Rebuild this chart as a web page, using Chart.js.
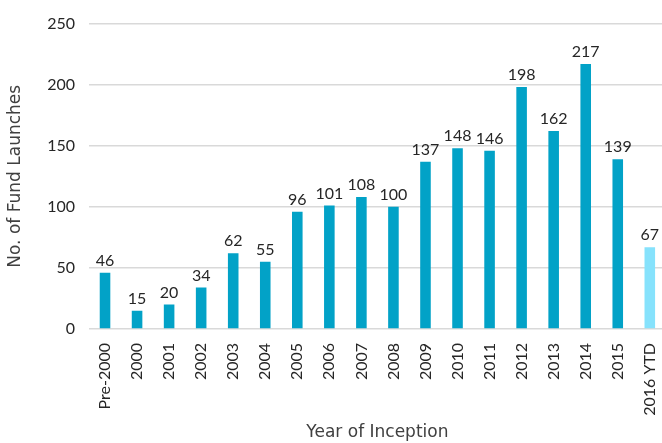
<!DOCTYPE html>
<html>
<head>
<meta charset="utf-8">
<script src="https://cdn.jsdelivr.net/npm/chart.js@4"></script>
<style>
  html, body { margin: 0; padding: 0; background: #fff; overflow: hidden; }
  #wrap { width: 675px; height: 443px; }
</style>
</head>
<body>
<div id="wrap"><canvas id="chart"></canvas></div>
<script>
var categories = ["Pre-2000", "2000", "2001", "2002", "2003", "2004", "2005", "2006", "2007", "2008",
                  "2009", "2010", "2011", "2012", "2013", "2014", "2015", "2016 YTD"];
var launches = [46, 15, 20, 34, 62, 55, 96, 101, 108, 100, 137, 148, 146, 198, 162, 217, 139, 67];
var yTicks = [0, 50, 100, 150, 200, 250];

var barColors = launches.map(function(v, i) {
    return i === launches.length - 1 ? "#86E2FC" : "#02A2C7";
});

var fontFamily = "Lato, 'DejaVu Sans', sans-serif";
var titleFamily = "'DejaVu Sans', sans-serif";

// draws the value above each bar
var valueLabels = {
    id: "valueLabels",
    afterDatasetsDraw: function(chart) {
        var ctx = chart.ctx;
        var meta = chart.getDatasetMeta(0);
        ctx.save();
        ctx.font = "16px " + fontFamily;
        ctx.fillStyle = "#262626";
        ctx.textAlign = "center";
        ctx.textBaseline = "bottom";
        meta.data.forEach(function(bar, i) {
            ctx.fillText(launches[i], bar.x, bar.y - 4);
        });
        ctx.restore();
    }
};

var config = {
    type: "bar",
    data: {
        labels: categories,
        datasets: [{
            data: launches,
            backgroundColor: barColors,
            barPercentage: 0.33,
            categoryPercentage: 1.0
        }]
    },
    options: {
        responsive: true,
        maintainAspectRatio: false,
        animation: false,
        layout: { padding: { top: 21, right: 0, left: 0, bottom: 0 } },
        plugins: {
            legend: { display: false },
            tooltip: { enabled: false }
        },
        scales: {
            x: {
                grid: { display: false },
                border: { display: false },
                ticks: {
                    color: "#262626",
                    font: { family: fontFamily, size: 16 },
                    minRotation: 90,
                    maxRotation: 90,
                    autoSkip: false,
                    padding: 6
                },
                title: {
                    display: true,
                    text: "Year of Inception",
                    color: "#404040",
                    font: { family: titleFamily, size: 17 },
                    padding: { top: 0, bottom: 0 }
                },
                afterFit: function(scale) { scale.height = 114; }
            },
            y: {
                min: 0,
                max: 250,
                afterBuildTicks: function(scale) {
                    scale.ticks = yTicks.map(function(v) { return { value: v }; });
                },
                grid: { color: "#D9D9D9", lineWidth: 1.5, drawTicks: false },
                border: { display: false },
                ticks: {
                    color: "#262626",
                    font: { family: fontFamily, size: 16 },
                    padding: 14
                },
                title: {
                    display: true,
                    text: "No. of Fund Launches",
                    color: "#404040",
                    font: { family: titleFamily, size: 17 },
                    padding: { top: 5, bottom: 4 }
                },
                afterFit: function(scale) { scale.width = 89; }
            }
        }
    },
    plugins: [valueLabels]
};

var ctx = document.getElementById("chart");
window.myChart = new Chart(ctx, config);
</script>
</body>
</html>
